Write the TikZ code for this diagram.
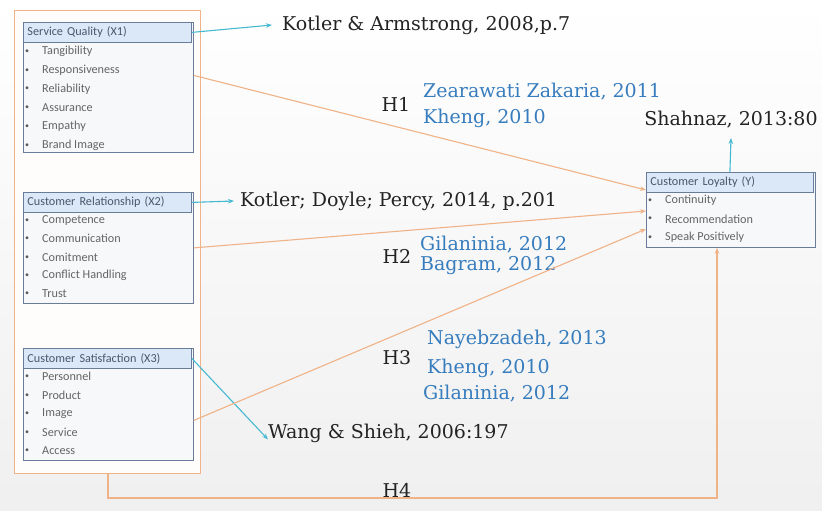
\documentclass[tikz,border=0pt]{standalone}
\usepackage{fontspec}
\setmainfont{DejaVu Serif}
\newfontfamily\boxfont{Carlito}
\usetikzlibrary{arrows.meta,positioning}
\definecolor{orng}{RGB}{240,178,135}
\definecolor{cyanar}{RGB}{70,185,210}
\definecolor{boxline}{RGB}{105,125,155}
\definecolor{hdrfill}{RGB}{218,232,248}
\definecolor{bodyfill}{RGB}{246,248,250}
\definecolor{refblue}{RGB}{55,125,190}
\definecolor{txt}{RGB}{35,35,35}
\tikzset{
  panel/.style={draw=boxline, line width=0.8pt, fill=bodyfill, inner sep=0pt, anchor=north west},
  hdr/.style={draw=boxline, line width=0.8pt, fill=hdrfill, inner sep=0pt, anchor=north west, font=\boxfont\fontsize{12.2}{13}\selectfont, text=boxline!70!black, align=left, text width=#1, minimum height=20pt},
  item/.style={anchor=west, inner sep=0pt, font=\boxfont\fontsize{12.2}{13}\selectfont, text=txt!70},
  bul/.style={anchor=center, inner sep=0pt, font=\boxfont\fontsize{8}{9}\selectfont, text=txt!75},
  big/.style={anchor=west, inner sep=0pt, font=\fontsize{19}{20}\selectfont, text=txt},
  ref/.style={anchor=west, inner sep=0pt, font=\fontsize{19}{20}\selectfont, text=refblue},
  hlab/.style={anchor=center, inner sep=0pt, font=\fontsize{19}{20}\selectfont, text=txt},
  oarr/.style={draw=orng, line width=1.1pt, -{Stealth[length=6pt,width=4.5pt]}},
  carr/.style={draw=cyanar, line width=1.1pt, -{Stealth[length=6pt,width=4.5pt]}},
}
\begin{document}
\begin{tikzpicture}[x=1pt,y=-1pt]
\shade[top color=white, bottom color=gray!12] (0,0) rectangle (822,511);
\useasboundingbox (0,0) rectangle (822,511);
% outer orange box
\node[draw=orng, line width=1.2pt, fill=white!60!orange!3, minimum width=186pt, minimum height=463pt, anchor=north west, inner sep=0pt] (outer) at (14,10) {};
% Service quality box
\node[panel, minimum width=170pt, minimum height=130pt] (sq) at (23,22) {};
\node[hdr=168pt] (sqh) at (23,22) {~Service Quality (X1)};
\foreach \t [count=\i] in {Tangibility,Responsiveness,Reliability,Assurance,Empathy,Brand Image}{
  \node[bul] (sqb\i) at (27,{33+\i*18.7}) {\textbullet};
  \node[item] (sqi\i) at (42,{33+\i*18.7}) {\t};
}
% Customer relationship
\node[panel, minimum width=170pt, minimum height=111pt] (cr) at (23,192) {};
\node[hdr=168pt] (crh) at (23,192) {~Customer Relationship (X2)};
\foreach \t [count=\i] in {Competence,Communication,Comitment,Conflict Handling,Trust}{
  \node[bul] (crb\i) at (27,{202+\i*18.4}) {\textbullet};
  \node[item] (cri\i) at (42,{202+\i*18.4}) {\t};
}
% Customer satisfaction
\node[panel, minimum width=170pt, minimum height=112pt] (cs) at (23,348) {};
\node[hdr=168pt] (csh) at (23,348) {~Customer Satisfaction (X3)};
\foreach \t [count=\i] in {Personnel,Product,Image,Service,Access}{
  \node[bul] (csb\i) at (27,{358+\i*18.6}) {\textbullet};
  \node[item] (csi\i) at (42,{358+\i*18.6}) {\t};
}
% Customer loyalty
\node[panel, minimum width=169pt, minimum height=75pt] (cl) at (646,172) {};
\node[hdr=167pt] (clh) at (646,172) {~Customer Loyalty (Y)};
\foreach \t [count=\i] in {Continuity,Recommendation,Speak Positively}{
  \node[bul] (clb\i) at (650,{182+\i*18.5}) {\textbullet};
  \node[item] (cli\i) at (665,{182+\i*18.5}) {\t};
}
% reference texts
\node[big] (kotler1) at (282,25) {Kotler \& Armstrong, 2008,p.7};
\node[big] (kotler2) at (240,201) {Kotler; Doyle; Percy, 2014, p.201};
\node[big] (wang) at (268,433) {Wang \& Shieh, 2006:197};
\node[big, anchor=center] (shah) at (731,120) {Shahnaz, 2013:80};
\node[hlab] (h1) at (396,104) {H1};
\node[ref] (r11) at (423,92) {Zearawati Zakaria, 2011};
\node[ref] (r12) at (423,118) {Kheng, 2010};
\node[hlab] (h2) at (397,256) {H2};
\node[ref] (r21) at (420,245) {Gilaninia, 2012};
\node[ref] (r22) at (420,266) {Bagram, 2012};
\node[hlab] (h3) at (397,358) {H3};
\node[ref] (r31) at (427,339) {Nayebzadeh, 2013};
\node[ref] (r32) at (427,368) {Kheng, 2010};
\node[ref] (r33) at (423,394) {Gilaninia, 2012};
\node[hlab] (h4) at (397,490) {H4};
% cyan arrows
\draw[carr] (sqh.east) -- ([xshift=-10pt]kotler1.west);
\draw[carr] (crh.east) -- ([xshift=-6pt]kotler2.west);
\draw[carr] (csh.east) -- ([yshift=-16pt]wang.north west);
\coordinate (shtip) at (731,138);
\draw[carr] (clh.north) -- (shtip);
% orange arrows
\coordinate (e1) at (646,190);
\coordinate (e2) at (646,211);
\coordinate (e3) at (646,229);
\draw[oarr] ([yshift=12pt]sq.east) -- (e1);
\draw[oarr] (cr.east) -- (e2);
\draw[oarr] ([yshift=-16pt]cs.east) -- (e3);
\coordinate (b1) at (108,498);
\coordinate (b2) at (717,498);
\draw[oarr] (outer.south -| b1) -- (b1) -- (b2) -- (cl.south -| b2);
\end{tikzpicture}
\end{document}
